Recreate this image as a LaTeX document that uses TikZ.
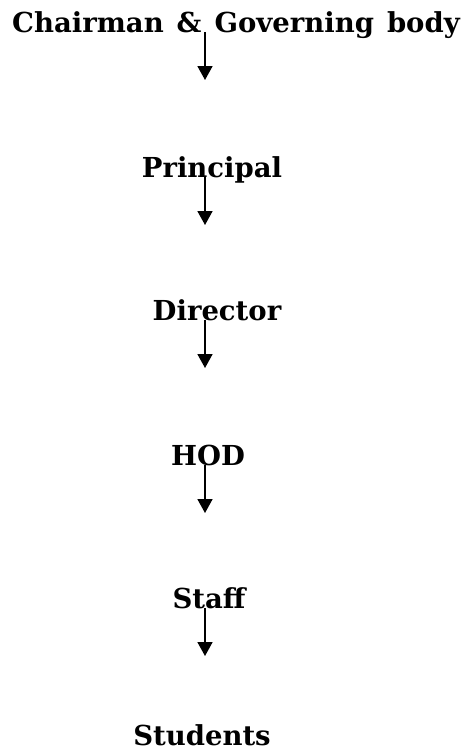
\documentclass[tikz,border=0pt]{standalone}
\usepackage{fontspec}
\setmainfont{DejaVu Serif}
\usepackage{tikz}
\usetikzlibrary{arrows.meta, positioning, calc}

\tikzset{
    level/.style={anchor=base, inner sep=0pt, font=\fontsize{27.5}{30}\selectfont\bfseries},
    flow/.style={-{Triangle[width=15pt,length=14pt]}, line width=1.8pt}
}

\begin{document}
\begin{tikzpicture}[x=1pt, y=-1pt]

    \useasboundingbox (0,0) rectangle (467,756);

    \coordinate (axis) at (205,0);

    \node[level] at (236,32) (chair) {\spaceskip=13pt Chairman \& Governing body};
    \node[level] at (212,177) (principal) {Principal};
    \node[level] at (217,320) (director) {Director};
    \node[level] at (208,465) (hod) {HOD};
    \node[level] at (209,608) (staff) {Staff};
    \node[level] at (202,745) (students) {Students};

    \foreach \n in {chair, principal, director, hod, staff} {
        \draw[flow] (\n.base -| axis) -- ++(0,48);
    };

\end{tikzpicture}
\end{document}
